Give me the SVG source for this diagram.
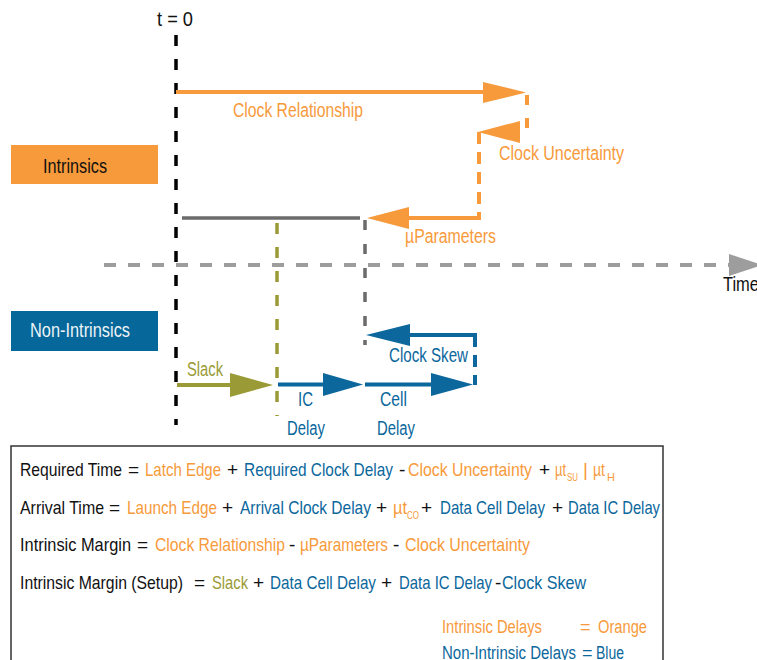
<svg xmlns="http://www.w3.org/2000/svg" width="757" height="660" viewBox="0 0 757 660">
<style>
text{font-family:"Liberation Sans Narrow","Liberation Sans",Arial,sans-serif;}
.lbl{font-size:20px;}
.eq{font-size:19px;fill:#111;}
.lg{font-size:18px;}
.sub{font-size:11px;}
.or{fill:#F79A3B;}
.bl{fill:#0B679C;}
.ol{fill:#9A9A36;}
.bk{fill:#111;}
.wh{fill:#EEF3F7;}
.sor{stroke:#F79A3B;stroke-width:4;fill:none;}
.sbl{stroke:#0B679C;stroke-width:4;fill:none;}
.sol{stroke:#9A9A36;stroke-width:4;fill:none;}
.dash{stroke-dasharray:11 12;}
</style>
<rect width="757" height="660" fill="#fff"/>

<g id="connectors">
  <!-- time axis -->
  <line x1="104" y1="265" x2="730" y2="265" stroke="#9d9d9d" stroke-width="4" stroke-dasharray="12 12"/>
  <polygon points="729,254 762,265 729,276" fill="#9d9d9d"/>
  <!-- t=0 line -->
  <line x1="176" y1="35" x2="176" y2="425" stroke="#000" stroke-width="3.5" stroke-dasharray="11 13"/>
  <!-- clock relationship -->
  <line class="sor" x1="176" y1="92" x2="486" y2="92"/>
  <polygon points="483,82 526,92.5 483,103" fill="#F79A3B"/>
  <!-- clock uncertainty -->
  <line class="sor" x1="527" y1="95" x2="527" y2="130" stroke-dasharray="10 13"/>
  <polygon points="520,121 478,132 520,143" fill="#F79A3B"/>
  <line class="sor" x1="479" y1="132" x2="479" y2="218" stroke-dasharray="12 8"/>
  <!-- uParameters -->
  <line class="sor" x1="481" y1="218" x2="405" y2="218"/>
  <polygon points="409,207 367,218 409,229" fill="#F79A3B"/>
  <!-- gray reference -->
  <line x1="182" y1="218" x2="360" y2="218" stroke="#6b6b6b" stroke-width="3.5"/>
  <line x1="365" y1="220" x2="365" y2="345" stroke="#6b6b6b" stroke-width="3.5" stroke-dasharray="10 14"/>
  <line x1="277" y1="223" x2="277" y2="416" stroke="#9A9A36" stroke-width="3.5" stroke-dasharray="11 13"/>
  <!-- clock skew -->
  <line class="sbl" x1="475" y1="335" x2="475" y2="385" stroke-dasharray="12 8"/>
  <line class="sbl" x1="477" y1="335" x2="405" y2="335"/>
  <polygon points="410,324 366,335 410,346" fill="#0B679C"/>
  <!-- slack -->
  <line class="sol" x1="177" y1="385" x2="233" y2="385"/>
  <polygon points="230,373 273,385 230,397" fill="#9A9A36"/>
  <!-- IC delay -->
  <line class="sbl" x1="278" y1="384.5" x2="326" y2="384.5"/>
  <polygon points="323,373 363,384.5 323,396" fill="#0B679C"/>
  <!-- Cell delay -->
  <line class="sbl" x1="365" y1="384.5" x2="434" y2="384.5"/>
  <polygon points="431,373 473,384.5 431,396" fill="#0B679C"/>
</g>

<g id="t0"><text class="lbl bk" x="157" y="26" textLength="36" lengthAdjust="spacingAndGlyphs">t = 0</text></g>
<g id="time"><text class="lbl bk" x="723" y="291" font-size="19" textLength="36" lengthAdjust="spacingAndGlyphs">Time</text></g>

<g id="intrinsics">
  <rect x="11" y="145" width="147" height="39" fill="#F79A3B"/>
  <text class="lbl bk" x="43" y="173" textLength="64" lengthAdjust="spacingAndGlyphs">Intrinsics</text>
</g>
<g id="non-intrinsics">
  <rect x="11" y="311" width="147" height="40" fill="#05679A"/>
  <text class="lbl wh" x="30" y="337" textLength="100" lengthAdjust="spacingAndGlyphs">Non-Intrinsics</text>
</g>

<g id="labels">
  <text class="lbl or" x="233" y="117" textLength="130" lengthAdjust="spacingAndGlyphs">Clock Relationship</text>
  <text class="lbl or" x="499" y="160" textLength="125" lengthAdjust="spacingAndGlyphs">Clock Uncertainty</text>
  <text class="lbl or" x="405" y="243" textLength="91" lengthAdjust="spacingAndGlyphs">µParameters</text>
  <text class="lbl bl" x="389" y="362" textLength="79" lengthAdjust="spacingAndGlyphs">Clock Skew</text>
  <text class="lbl ol" x="187" y="376" textLength="36" lengthAdjust="spacingAndGlyphs">Slack</text>
  <text class="lbl bl" x="298" y="406" textLength="15" lengthAdjust="spacingAndGlyphs">IC</text>
  <text class="lbl bl" x="287" y="435" textLength="38" lengthAdjust="spacingAndGlyphs">Delay</text>
  <text class="lbl bl" x="380" y="406" textLength="27" lengthAdjust="spacingAndGlyphs">Cell</text>
  <text class="lbl bl" x="377" y="435" textLength="38" lengthAdjust="spacingAndGlyphs">Delay</text>
</g>

<g id="equations">
  <rect x="11" y="446" width="652" height="250" fill="none" stroke="#333" stroke-width="1.5"/>
  <g id="eq1" class="eq">
    <text x="20" y="476" textLength="102" lengthAdjust="spacingAndGlyphs">Required Time</text>
    <text x="128" y="476">=</text>
    <text class="or" x="145" y="476" textLength="76" lengthAdjust="spacingAndGlyphs">Latch Edge</text>
    <text x="227" y="476">+</text>
    <text class="bl" x="244" y="476" textLength="149" lengthAdjust="spacingAndGlyphs">Required Clock Delay</text>
    <text x="399" y="476">-</text>
    <text class="or" x="408" y="476" textLength="124" lengthAdjust="spacingAndGlyphs">Clock Uncertainty</text>
    <text x="539" y="476">+</text>
    <text class="or" x="555" y="476" textLength="11" lengthAdjust="spacingAndGlyphs">µt</text>
    <text class="or sub" x="567" y="481" textLength="11" lengthAdjust="spacingAndGlyphs">SU</text>
    <text class="or" x="583" y="476">|</text>
    <text class="or" x="593" y="476" textLength="12" lengthAdjust="spacingAndGlyphs">µt</text>
    <text class="or sub" x="607" y="481">H</text>
  </g>
  <g id="eq2" class="eq">
    <text x="20" y="514" textLength="84" lengthAdjust="spacingAndGlyphs">Arrival Time</text>
    <text x="109" y="514">=</text>
    <text class="or" x="127" y="514" textLength="90" lengthAdjust="spacingAndGlyphs">Launch Edge</text>
    <text x="222" y="514">+</text>
    <text class="bl" x="240" y="514" textLength="131" lengthAdjust="spacingAndGlyphs">Arrival Clock Delay</text>
    <text x="376" y="514">+</text>
    <text class="or" x="393" y="514" textLength="14" lengthAdjust="spacingAndGlyphs">µt</text>
    <text class="or sub" x="407" y="519" textLength="12" lengthAdjust="spacingAndGlyphs">CO</text>
    <text x="421" y="514">+</text>
    <text class="bl" x="440" y="514" textLength="105" lengthAdjust="spacingAndGlyphs">Data Cell Delay</text>
    <text x="552" y="514">+</text>
    <text class="bl" x="568" y="514" textLength="92" lengthAdjust="spacingAndGlyphs">Data IC Delay</text>
  </g>
  <g id="eq3" class="eq">
    <text x="20" y="551" textLength="111" lengthAdjust="spacingAndGlyphs">Intrinsic Margin</text>
    <text x="137" y="551">=</text>
    <text class="or" x="155" y="551" textLength="130" lengthAdjust="spacingAndGlyphs">Clock Relationship</text>
    <text x="289" y="551">-</text>
    <text class="or" x="300" y="551" textLength="88" lengthAdjust="spacingAndGlyphs">µParameters</text>
    <text x="393" y="551">-</text>
    <text class="or" x="405" y="551" textLength="125" lengthAdjust="spacingAndGlyphs">Clock Uncertainty</text>
  </g>
  <g id="eq4" class="eq">
    <text x="20" y="589" textLength="163" lengthAdjust="spacingAndGlyphs">Intrinsic Margin (Setup)</text>
    <text x="194" y="589">=</text>
    <text class="ol" x="212" y="589" textLength="36" lengthAdjust="spacingAndGlyphs">Slack</text>
    <text x="253" y="589">+</text>
    <text class="bl" x="270" y="589" textLength="106" lengthAdjust="spacingAndGlyphs">Data Cell Delay</text>
    <text x="381" y="589">+</text>
    <text class="bl" x="399" y="589" textLength="93" lengthAdjust="spacingAndGlyphs">Data IC Delay</text>
    <text x="495" y="589">-</text>
    <text class="bl" x="502" y="589" textLength="84" lengthAdjust="spacingAndGlyphs">Clock Skew</text>
  </g>
  <g id="legend" class="lg">
    <text class="or" x="442" y="633" textLength="100" lengthAdjust="spacingAndGlyphs">Intrinsic Delays</text>
    <text class="or" x="580" y="633">=</text>
    <text class="or" x="598" y="633" textLength="49" lengthAdjust="spacingAndGlyphs">Orange</text>
    <text class="bl" x="442" y="659" textLength="134" lengthAdjust="spacingAndGlyphs">Non-Intrinsic Delays</text>
    <text class="bl" x="582" y="659">=</text>
    <text class="bl" x="596" y="659" textLength="28" lengthAdjust="spacingAndGlyphs">Blue</text>
  </g>
</g>
</svg>
